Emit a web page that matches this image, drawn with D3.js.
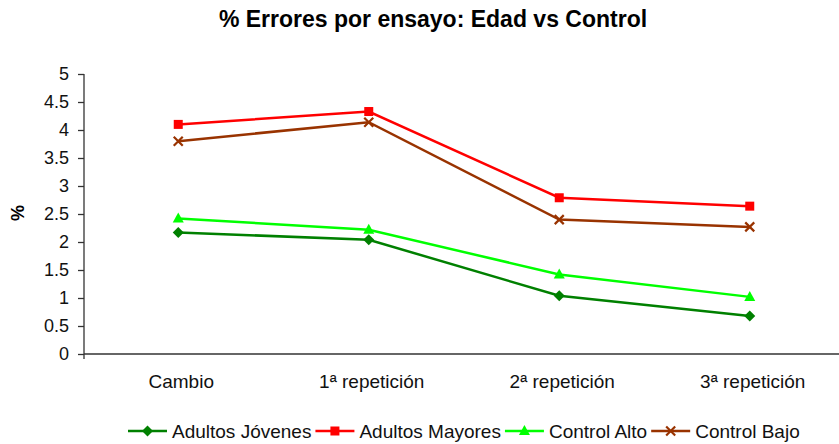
<!DOCTYPE html>
<html>
<head>
    <meta charset="UTF-8"/>
    <style>
        body {
            font-family: "Liberation Sans", Arial, Helvetica, sans-serif;
            margin: 0;
            background: white;
        }
    </style>
</head>
<body>
<script src="https://d3js.org/d3.v7.min.js"></script>
<div id="my_dataviz"></div>
<script>

    // data
    var categories = ["Cambio", "1ª repetición", "2ª repetición", "3ª repetición"];
    var seriesNames = ["Adultos Jóvenes", "Adultos Mayores", "Control Alto", "Control Bajo"];
    var adultosJovenes = [2.17, 2.04, 1.04, 0.68];
    var adultosMayores = [4.10, 4.33, 2.79, 2.64];
    var controlAlto = [2.42, 2.22, 1.42, 1.02];
    var controlBajo = [3.80, 4.14, 2.40, 2.27];
    var yTicks = [0, 0.5, 1, 1.5, 2, 2.5, 3, 3.5, 4, 4.5, 5];

    var colors = ["#008000", "#ff0000", "#00ff00", "#993300"];
    var symbols = ["diamond", "square", "triangle", "cross"];

    var series = [adultosJovenes, adultosMayores, controlAlto, controlBajo].map(function(v, i) {
        return {name: seriesNames[i], values: v, color: colors[i], symbol: symbols[i]};
    });

    var width = 839, height = 444;

    var svg = d3.select("#my_dataviz")
        .append("svg")
        .attr("width", width)
        .attr("height", height);

    var x = d3.scaleBand()
        .domain(categories)
        .range([83, 845]);

    var y = d3.scaleLinear()
        .domain([0, 5])
        .range([354, 74]);

    function cx(d) { return x(d) + x.bandwidth() / 2; }

    // title
    svg.append("text")
        .attr("x", 433)
        .attr("y", 27)
        .attr("text-anchor", "middle")
        .attr("font-size", "23px")
        .attr("font-weight", "bold")
        .text("% Errores por ensayo: Edad vs Control");

    // y axis label
    svg.append("text")
        .attr("transform", "translate(24,213) rotate(-90)")
        .attr("text-anchor", "middle")
        .attr("font-size", "18px")
        .attr("font-weight", "bold")
        .text("%");

    // y axis
    var yAxis = svg.append("g")
        .attr("transform", "translate(84,0)")
        .call(d3.axisLeft(y).tickValues(yTicks).tickSize(6).tickPadding(9)
            .tickFormat(function(d) { return d; }));
    yAxis.select(".domain").remove();
    yAxis.selectAll("line").attr("stroke", "#333").attr("stroke-width", 1.3);
    yAxis.selectAll("text").attr("font-size", "18px").attr("font-family", "Liberation Sans, Arial").attr("fill", "#111");

    svg.append("line")
        .attr("x1", 84).attr("x2", 84)
        .attr("y1", 74).attr("y2", 359)
        .attr("stroke", "#333").attr("stroke-width", 1.3);

    // x axis
    svg.append("line")
        .attr("x1", 84).attr("x2", width)
        .attr("y1", 354).attr("y2", 354)
        .attr("stroke", "#333").attr("stroke-width", 1.5);

    svg.selectAll(".xlab")
        .data(categories)
        .enter()
        .append("text")
        .attr("class", "xlab")
        .attr("x", function(d) { return cx(d) + 3; })
        .attr("y", 388)
        .attr("text-anchor", "middle")
        .attr("font-size", "19px")
        .attr("fill", "#111")
        .text(function(d) { return d; });

    var line = d3.line()
        .x(function(d, i) { return cx(categories[i]); })
        .y(function(d) { return y(d); });

    function marker(sel, s) {
        if (s.symbol === "cross") {
            sel.append("path")
                .attr("d", "M-4.5,-4.5L4.5,4.5M-4.5,4.5L4.5,-4.5")
                .attr("stroke", s.color)
                .attr("stroke-width", 2.2)
                .attr("fill", "none");
        } else if (s.symbol === "square") {
            sel.append("rect")
                .attr("x", -4.5).attr("y", -4.5)
                .attr("width", 9).attr("height", 9)
                .attr("fill", s.color);
        } else if (s.symbol === "diamond") {
            sel.append("path")
                .attr("d", "M0,-5.5L5.5,0L0,5.5L-5.5,0Z")
                .attr("fill", s.color);
        } else {
            sel.append("path")
                .attr("d", "M0,-6L5.5,4L-5.5,4Z")
                .attr("fill", s.color);
        }
    }

    series.forEach(function(s) {
        svg.append("path")
            .datum(s.values)
            .attr("d", line)
            .attr("fill", "none")
            .attr("stroke", s.color)
            .attr("stroke-width", 2.5);

        s.values.forEach(function(v, i) {
            var g = svg.append("g")
                .attr("transform", "translate(" + cx(categories[i]) + "," + y(v) + ")");
            marker(g, s);
        });
    });

    // legend
    var lx = 128;
    series.forEach(function(s) {
        var g = svg.append("g").attr("transform", "translate(" + lx + ",431)");
        g.append("line")
            .attr("x1", 0).attr("x2", 39)
            .attr("y1", 0).attr("y2", 0)
            .attr("stroke", s.color)
            .attr("stroke-width", 2.5);
        var m = g.append("g").attr("transform", "translate(19.5,0)");
        marker(m, s);
        var t = g.append("text")
            .attr("x", 44)
            .attr("y", 6.5)
            .attr("font-size", "19px")
            .attr("fill", "#111")
            .text(s.name);
        lx += 44 + t.node().getComputedTextLength() + 4;
    });

</script>
</body>
</html>
